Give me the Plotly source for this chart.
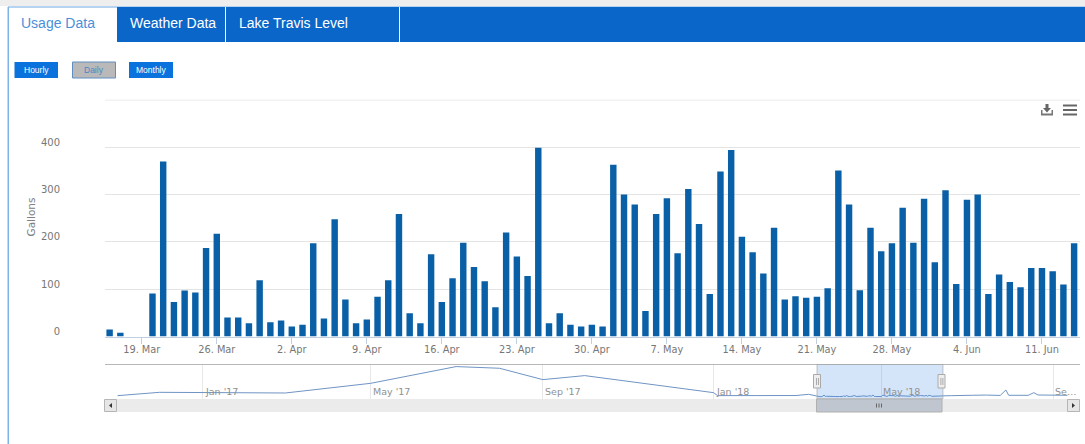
import plotly.graph_objects as go

W, H = 1085, 444

# ---- main chart data (daily gallons, 2018-03-16 .. 2018-06-14)
march = [15, 8, 0, 0, 91, 370, 73, 97, 93, 187, 217, 40, 40, 28, 119, 30]
april = [34, 21, 25, 197, 38, 248, 78, 28, 36, 84, 119, 259, 49, 28, 174,
         73, 123, 198, 147, 117, 62, 220, 169, 128, 399, 28, 49, 25, 21, 25]
may = [21, 363, 300, 279, 54, 259, 292, 176, 312, 238, 90, 349, 394, 211, 178,
       133, 230, 78, 85, 82, 84, 102, 351, 279, 98, 230, 180, 197, 272, 198, 291]
june = [157, 309, 111, 289, 300, 90, 131, 115, 104, 145, 145, 138, 110, 197]
gallons = march + april + may + june

mar_days = [f"2018-03-{d:02d}" for d in range(16, 32)]
apr_days = [f"2018-04-{d:02d}" for d in range(1, 31)]
may_days = [f"2018-05-{d:02d}" for d in range(1, 32)]
jun_days = [f"2018-06-{d:02d}" for d in range(1, 15)]
days = mar_days + apr_days + may_days + jun_days

tick_days = ["2018-03-19", "2018-03-26", "2018-04-02", "2018-04-09", "2018-04-16", "2018-04-23",
             "2018-04-30", "2018-05-07", "2018-05-14", "2018-05-21", "2018-05-28", "2018-06-04", "2018-06-11"]
tick_labels = ["19. Mar", "26. Mar", "2. Apr", "9. Apr", "16. Apr", "23. Apr", "30. Apr",
               "7. May", "14. May", "21. May", "28. May", "4. Jun", "11. Jun"]
y_ticks = [0, 100, 200, 300, 400]
y_labels = ["0", "100", "200", "300", "400"]
y_top = 500

# ---- navigator data
nav_before_days = ["2016-11-01", "2016-12-01", "2017-03-01", "2017-05-01", "2017-07-01", "2017-08-01",
                   "2017-09-01", "2017-10-01", "2018-01-01", "2018-01-04", "2018-02-01", "2018-03-01",
                   "2018-03-10", "2018-03-13"]
nav_before_vals = [240, 1040, 880, 3200, 7200, 6800, 4080, 5040, 960, 250, 260, 270, 560, 280]
nav_after_days = ["2018-06-20", "2018-06-27", "2018-07-05", "2018-07-15", "2018-07-25", "2018-07-29",
                  "2018-07-31", "2018-08-14", "2018-08-18", "2018-08-21", "2018-09-01", "2018-09-11"]
nav_after_vals = [240, 350, 330, 380, 300, 1600, 330, 320, 960, 400, 380, 320]
nav_ticks = ["2017-01-01", "2017-05-01", "2017-09-01", "2018-01-01", "2018-05-01", "2018-09-01"]
nav_labels = ["Jan '17", "May '17", "Sep '17", "Jan '18", "May '18", "Se…"]

BLUE = "#0a66c8"
BAR = "#0a60a6"


def px(x):
    return x / W


def py(y):
    return 1 - y / H


def rect(x0, y0, x1, y1, fill, line=None, lw=1, layer="above"):
    return dict(type="rect", xref="paper", yref="paper", x0=px(x0), x1=px(x1), y0=py(y0), y1=py(y1),
                fillcolor=fill, line=dict(color=line or fill, width=lw if line else 0), layer=layer)


def poly(points, fill):
    path = "M " + " L ".join(f"{px(a):.5f},{py(b):.5f}" for a, b in points) + " Z"
    return dict(type="path", xref="paper", yref="paper", path=path, fillcolor=fill, line=dict(width=0), layer="above")


def text(x, y, s, size, color, family="Liberation Sans", anchor="center", **kw):
    return dict(xref="paper", yref="paper", x=px(x), y=py(y), text=s, showarrow=False, xanchor=anchor,
                yanchor="middle", font=dict(family=family, size=size, color=color), **kw)


shapes = [
    rect(0, 0, W, 6, "#eeeeee", layer="below"),
    rect(8, 6.5, W, 7.5, "#6ea9e4", layer="below"),
    rect(7.5, 7, 9, H, "#7fb3e8", layer="below"),
    rect(117, 7, W, 42, BLUE, layer="below"),
    rect(225, 7, 226, 42, "#ffffff", layer="below"),
    rect(399, 7, 400, 42, "#ffffff", layer="below"),
    rect(14.5, 62, 58, 78, "#0a72dc", layer="below"),
    rect(72.5, 62, 115.5, 78, "#b9b9b9", "#5f8fc0", 1, layer="below"),
    rect(129, 62, 173, 78, "#0a72dc", layer="below"),
    # top gridline of the main plot
    dict(type="line", xref="paper", yref="y", x0=px(105), x1=px(1080), y0=y_top, y1=y_top,
         line=dict(color="#e4e4e4", width=1), layer="below"),
    # menu icons
    rect(1063, 104.5, 1077, 106.5, "#666666"),
    rect(1063, 109, 1077, 111, "#666666"),
    rect(1063, 113.5, 1077, 115.5, "#666666"),
    poly([(1045.5, 104), (1048.5, 104), (1048.5, 108), (1051, 108), (1047, 112.5), (1043, 108), (1045.5, 108)], "#666666"),
    rect(1041, 113.5, 1053, 115.5, "#777777"),
    rect(1041, 110, 1042.5, 115, "#777777"),
    rect(1051.5, 110, 1053, 115, "#777777"),
    # navigator frame
    rect(105, 364, 1080, 365, "#b8b8b8", layer="below"),
    dict(type="rect", xref="x2", yref="paper", x0=days[0], x1=days[-1], y0=py(399), y1=py(364.5),
         fillcolor="rgba(20,110,220,0.18)", line=dict(color="rgba(170,170,170,0.7)", width=1), layer="above"),
    # scrollbar
    rect(105, 399, 1080, 412, "#ebebeb"),
    rect(816.5, 399, 942, 412, "#bfc6cf", "#b0b0b0", 1),
    rect(876, 403.5, 877, 407.5, "#666666"),
    rect(878.5, 403.5, 879.5, 407.5, "#666666"),
    rect(881, 403.5, 882, 407.5, "#666666"),
    rect(104.5, 399.5, 116.5, 411.5, "#e6e6e6", "#b5b5b5", 1),
    rect(1067.5, 399.5, 1079.5, 411.5, "#e6e6e6", "#b5b5b5", 1),
    poly([(112, 403), (112, 408), (109, 405.5)], "#333333"),
    poly([(1072, 403), (1072, 408), (1075, 405.5)], "#333333"),
    # navigator handles
    rect(813.5, 374.5, 820.5, 388, "#eeeeee", "#aaaaaa", 1),
    rect(816, 378, 816.8, 385, "#999999"),
    rect(818, 378, 818.8, 385, "#999999"),
    rect(938, 374.5, 945, 388, "#eeeeee", "#aaaaaa", 1),
    rect(940.5, 378, 941.3, 385, "#999999"),
    rect(942.5, 378, 943.3, 385, "#999999"),
]

annotations = [
    text(58, 23, "Usage Data", 14, "#4a90d9"),
    text(173, 23, "Weather Data", 14, "#ffffff"),
    text(293.5, 23, "Lake Travis Level", 14, "#ffffff"),
    text(36, 70, "Hourly", 8.5, "#ffffff"),
    text(94, 70, "Daily", 8.5, "#4a86c8"),
    text(151, 70, "Monthly", 8.5, "#ffffff"),
    text(30.5, 217, "Gallons", 10.5, "#808080", family="DejaVu Sans", textangle=-90),
]
for d, label in zip(nav_ticks, nav_labels):
    annotations.append(dict(xref="x2", yref="paper", x=d, y=py(391.5), text=label, showarrow=False, xanchor="left",
                            xshift=0, yanchor="middle", font=dict(family="DejaVu Sans", size=9.5, color="#909090")))

fig = go.Figure()
fig.add_trace(go.Bar(x=days, y=gallons, marker=dict(color=BAR, line=dict(width=0)), xaxis="x", yaxis="y", name="Gallons"))
fig.add_trace(go.Scatter(x=nav_before_days + days + nav_after_days, y=nav_before_vals + gallons + nav_after_vals,
                         mode="lines", line=dict(color="#6f94c4", width=1), xaxis="x2", yaxis="y2", name="Navigator"))

fig.update_layout(
    width=W, height=H, margin=dict(l=0, r=0, t=0, b=0, autoexpand=False), paper_bgcolor="#ffffff",
    plot_bgcolor="rgba(0,0,0,0)", showlegend=False, bargap=0.4, shapes=shapes, annotations=annotations,
    xaxis=dict(domain=[px(105), px(1080)], range=["2018-03-15 13:40", "2018-06-14 13:10"], type="date",
               tickmode="array", tickvals=tick_days, ticktext=tick_labels, ticks="outside", ticklen=6, tickwidth=1,
               tickcolor="#c0d0e0", showgrid=False, zeroline=False, showline=True, linecolor="#c0d0e0", linewidth=1,
               anchor="y", automargin=False, ticklabelstandoff=-2,
               tickfont=dict(family="DejaVu Sans", size=9.8, color="#777777")),
    yaxis=dict(domain=[py(336.5), py(99.5)], range=[0, 501], tickmode="array", tickvals=y_ticks, ticktext=y_labels,
               gridcolor="#e4e4e4", gridwidth=1, zeroline=False, showline=False, ticks="", anchor="x",
               automargin=False, ticklabelstandoff=44, ticklabelshift=-5,
               tickfont=dict(family="DejaVu Sans", size=10, color="#777777")),
    xaxis2=dict(domain=[px(105), px(1080)], range=["2016-10-23", "2018-09-20"], type="date", tickmode="array",
                tickvals=nav_ticks, showticklabels=False, showgrid=True, gridcolor="#e8e8e8", zeroline=False,
                anchor="y2", automargin=False),
    yaxis2=dict(domain=[py(399), py(364.5)], range=[-560, 7700], visible=False, anchor="x2", automargin=False),
)

fig.write_html("out.html", config=dict(displayModeBar=False),
               post_script="document.body.style.margin='0';document.documentElement.style.overflow='hidden';")
